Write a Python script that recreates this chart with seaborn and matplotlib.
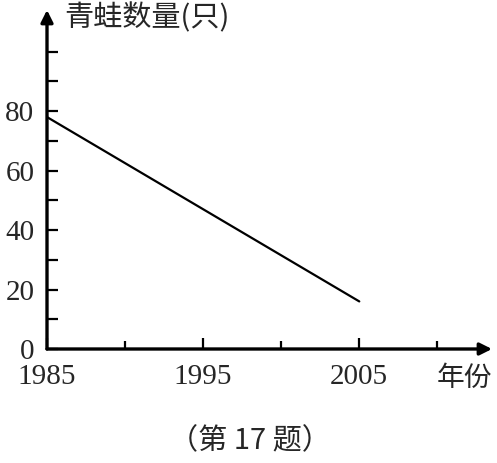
import matplotlib
matplotlib.use("Agg")
import matplotlib.pyplot as plt
import seaborn as sns
import pandas as pd

# data
years = [1985, 2005]
frogs = [78, 16]
x_major = [1985, 1995, 2005]
x_minor = [1990, 2000, 2010]
y_major = [0, 20, 40, 60, 80]
y_minor = [10, 30, 50, 70, 90, 100]

ylabel = "青蛙数量(只)"
xlabel = "年份"
caption = "（第 17 题）"

sns.set_theme(style="ticks")
plt.rcParams["font.family"] = ["Liberation Serif", "Noto Sans CJK SC"]

fig = plt.figure(figsize=(4.97, 4.63), dpi=100)
ax = fig.add_axes([47 / 497, 114 / 463, 445 / 497, 339 / 463])

df = pd.DataFrame({"year": years, "count": frogs})
sns.lineplot(data=df, x="year", y="count", color="black", linewidth=1.6, ax=ax)

ax.set_xlim(1985, 2013.5)
ax.set_ylim(0, 114)

for s in ax.spines.values():
    s.set_visible(False)

# axes with arrowheads
arr = dict(arrowstyle="-|>", lw=2.4, color="black", mutation_scale=18, shrinkA=0, shrinkB=0)
ax.annotate("", xy=(1.0, 0), xytext=(0, 0), xycoords="axes fraction", arrowprops=arr, annotation_clip=False)
ax.annotate("", xy=(0, 1.0), xytext=(0, 0), xycoords="axes fraction", arrowprops=arr, annotation_clip=False)

ax.set_xticks(x_major)
ax.set_xticks(x_minor, minor=True)
ax.set_yticks(y_major)
ax.set_yticks(y_minor, minor=True)
ax.set_xticklabels([str(v) for v in x_major])
ax.set_yticklabels([str(v) for v in y_major])

ax.tick_params(axis="both", which="both", direction="in", color="black", width=1.6)
ax.tick_params(axis="y", which="both", length=8, pad=9, labelsize=21)
ax.tick_params(axis="x", which="major", length=8, pad=11, labelsize=21)
ax.tick_params(axis="x", which="minor", length=6)
ax.set_xlabel("")
ax.set_ylabel("")

cjk = ["Noto Sans CJK SC", "DejaVu Sans"]
fig.text(64 / 497, 1 - 18 / 463, ylabel, family=cjk, fontsize=21, ha="left", va="center")
fig.text(464 / 497, 1 - 378 / 463, xlabel, family=cjk, fontsize=20, ha="center", va="center")
fig.text(250 / 497, 1 - 441 / 463, caption, family=cjk, fontsize=21, ha="center", va="center")

fig.savefig("out.png", dpi=100)
